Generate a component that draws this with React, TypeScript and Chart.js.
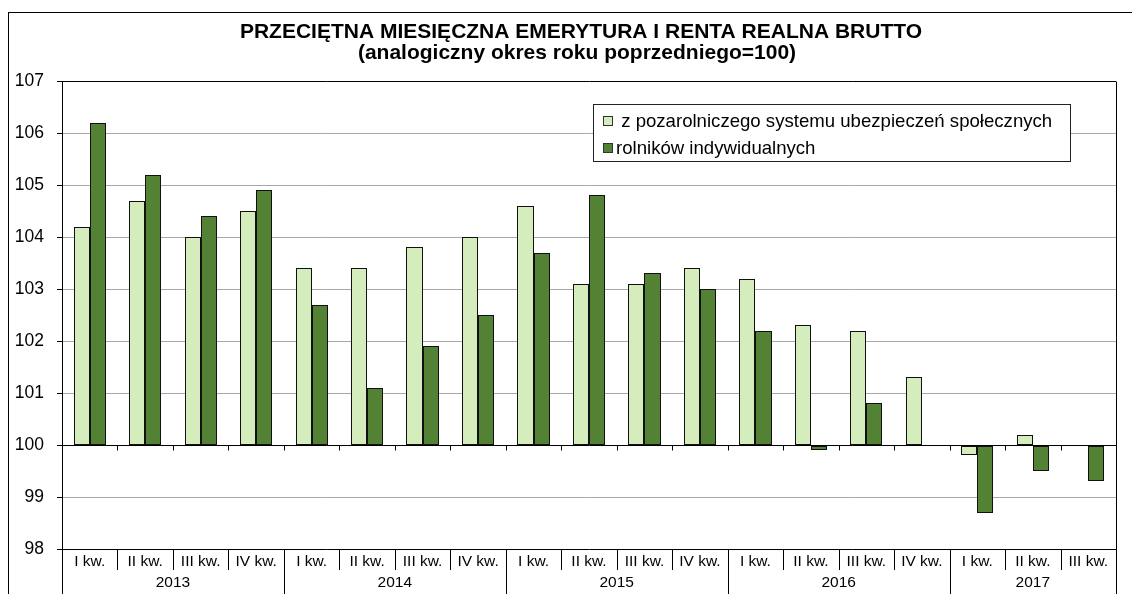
import React, { useEffect, useRef } from 'react';
import { Chart, registerables } from 'chart.js';

Chart.register(...registerables);

// ---- data ----
const quarterLabels = [
  'I kw.', 'II kw.', 'III kw.', 'IV kw.',
  'I kw.', 'II kw.', 'III kw.', 'IV kw.',
  'I kw.', 'II kw.', 'III kw.', 'IV kw.',
  'I kw.', 'II kw.', 'III kw.', 'IV kw.',
  'I kw.', 'II kw.', 'III kw.',
];
const yearLabels = ['2013', '2014', '2015', '2016', '2017'];
const quartersPerYear = [4, 4, 4, 4, 3];

const seriesNames = [
  'z pozarolniczego systemu ubezpieczeń społecznych',
  'rolników indywidualnych',
];
const nonAgricultural = [
  104.2, 104.7, 104.0, 104.5,
  103.4, 103.4, 103.8, 104.0,
  104.6, 103.1, 103.1, 103.4,
  103.2, 102.3, 102.2, 101.3,
  99.8, 100.2, null,
];
const farmers = [
  106.2, 105.2, 104.4, 104.9,
  102.7, 101.1, 101.9, 102.5,
  103.7, 104.8, 103.3, 103.0,
  102.2, 99.9, 100.8, null,
  98.7, 99.5, 99.3,
];
const baseValue = 100;
const yMin = 98;
const yMax = 107;
const yStep = 1;

const titleLines = [
  'PRZECIĘTNA MIESIĘCZNA EMERYTURA I RENTA REALNA BRUTTO',
  '(analogiczny okres roku poprzedniego=100)',
];

// ---- styles ----
const FONT = '"Liberation Sans", Arial, sans-serif';
const LIGHT = '#d5ecbd';
const DARK = '#548235';
const GRID = '#a8a8a8';
const colors = [LIGHT, DARK];

// snap bar rectangles (computed by the library) to whole pixels for crisp borders
const snapPlugin = {
  id: 'snap',
  afterDatasetsUpdate(chart: any) {
    chart.data.datasets.forEach((_: any, di: number) => {
      const meta = chart.getDatasetMeta(di);
      meta.data.forEach((el: any) => {
        if (el.skip || !isFinite(el.x) || !isFinite(el.y)) return;
        const l = Math.round(el.x - el.width / 2);
        const r = Math.round(el.x + el.width / 2);
        el.width = r - l;
        el.x = l + (r - l) / 2;
        el.y = Math.round(el.y);
        el.base = Math.round(el.base);
      });
    });
  },
};

const decorPlugin = {
  id: 'decor',
  afterDraw(chart: any) {
    const { ctx, chartArea, scales } = chart;
    const x = scales.x;
    const y = scales.y;
    const n = quarterLabels.length;
    const H = chart.height;
    const bottom = chartArea.bottom;
    const y100 = Math.round(y.getPixelForValue(baseValue)) + 0.5;
    const bx = (i: number) => Math.round(x.getPixelForValue(i - 0.5)) + 0.5;

    ctx.save();
    ctx.strokeStyle = '#000';
    ctx.lineWidth = 1;

    // right border of plot
    ctx.beginPath();
    const rx = Math.round(chartArea.right) + 0.5;
    ctx.moveTo(rx, Math.round(chartArea.top) + 0.5);
    ctx.lineTo(rx, H);
    ctx.stroke();

    // tick marks on the 100 line
    ctx.beginPath();
    for (let i = 1; i < n; i++) {
      ctx.moveTo(bx(i), y100);
      ctx.lineTo(bx(i), y100 + 5);
    }
    ctx.stroke();

    // year boundaries
    const yearBounds: number[] = [0];
    let acc = 0;
    quartersPerYear.forEach((q) => { acc += q; yearBounds.push(acc); });

    // separators
    ctx.beginPath();
    for (let i = 0; i <= n; i++) {
      const isYear = yearBounds.includes(i);
      ctx.moveTo(bx(i), bottom);
      ctx.lineTo(bx(i), isYear ? H : bottom + 21);
    }
    ctx.stroke();

    // quarter labels
    ctx.fillStyle = '#000';
    ctx.textAlign = 'center';
    ctx.textBaseline = 'alphabetic';
    ctx.font = `15.5px ${FONT}`;
    quarterLabels.forEach((lbl, i) => {
      ctx.fillText(lbl, x.getPixelForValue(i), bottom + 16.5);
    });
    // year labels
    yearLabels.forEach((lbl, k) => {
      const cx = (x.getPixelForValue(yearBounds[k] - 0.5) + x.getPixelForValue(yearBounds[k + 1] - 0.5)) / 2;
      ctx.fillText(lbl, cx, bottom + 37.5);
    });

    // title
    ctx.font = `bold 21px ${FONT}`;
    const tx = (chartArea.left + chartArea.right) / 2 - 8;
    ctx.fillText(titleLines[0], tx, 24.5);
    ctx.fillText(titleLines[1], tx - 4, 45.5);

    // legend
    const lx = chartArea.right - 523;
    const ly = chartArea.top + 23;
    const lw = 477;
    const lh = 57;
    ctx.fillStyle = '#fff';
    ctx.fillRect(lx, ly, lw, lh);
    ctx.strokeStyle = '#222';
    ctx.strokeRect(Math.round(lx) + 0.5, Math.round(ly) + 0.5, lw, lh);
    ctx.font = `18.6px ${FONT}`;
    ctx.textAlign = 'left';
    seriesNames.forEach((name, i) => {
      const rowY = ly + 16 + i * 27;
      const sx = Math.round(lx + 10) + 0.5;
      const sy = Math.round(rowY - 4.5) + 0.5;
      ctx.fillStyle = colors[i];
      ctx.fillRect(sx, sy, 9, 9);
      ctx.strokeStyle = '#333';
      ctx.strokeRect(sx, sy, 9, 9);
      ctx.fillStyle = '#000';
      ctx.fillText((i === 0 ? ' ' : '') + name, lx + 23, rowY + 6.5);
    });

    ctx.restore();
  },
};

export default function App() {
  const ref = useRef<HTMLCanvasElement | null>(null);

  useEffect(() => {
    document.body.style.overflow = 'hidden';
    if (!ref.current) return;
    const edge = (v: number) => v === baseValue || v === yMin || v === yMax;
    const barStyle = {
      base: baseValue,
      borderColor: '#111',
      borderWidth: 1,
      borderSkipped: false,
      inflateAmount: 0,
    };
    const chart = new Chart(ref.current, {
      type: 'bar',
      data: {
        labels: quarterLabels,
        datasets: [
          { label: seriesNames[0], data: nonAgricultural, backgroundColor: LIGHT, ...barStyle } as any,
          { label: seriesNames[1], data: farmers, backgroundColor: DARK, ...barStyle } as any,
        ],
      },
      options: {
        responsive: false,
        animation: false,
        devicePixelRatio: 1,
        layout: { padding: { left: 0, right: 16, top: 68, bottom: 45 } },
        datasets: {
          bar: { categoryPercentage: 0.58, barPercentage: 1.0 },
        },
        plugins: {
          legend: { display: false },
          title: { display: false },
          tooltip: { enabled: false },
        },
        scales: {
          x: {
            type: 'category',
            display: false,
            offset: true,
          },
          y: {
            min: yMin,
            max: yMax,
            ticks: {
              stepSize: yStep,
              color: '#000',
              font: { family: FONT, size: 17.5 },
              padding: 13,
            },
            grid: {
              color: (c: any) => (edge(c.tick?.value) ? '#000' : GRID),
              tickColor: '#000',
              tickLength: 5,
              lineWidth: 1,
            },
            border: { display: true, color: '#000', width: 1 },
            afterFit: (s: any) => { s.width = 53; },
          },
        },
      },
      plugins: [snapPlugin, decorPlugin],
    } as any);
    return () => chart.destroy();
  }, []);

  return (
    <div
      style={{
        position: 'absolute',
        left: 8,
        top: 12,
        width: 1200,
        height: 600,
        borderTop: '1px solid #000',
        borderLeft: '1px solid #000',
        background: '#fff',
      }}
    >
      <canvas ref={ref} width={1123} height={581} style={{ display: 'block', width: 1123, height: 581 }} />
    </div>
  );
}
